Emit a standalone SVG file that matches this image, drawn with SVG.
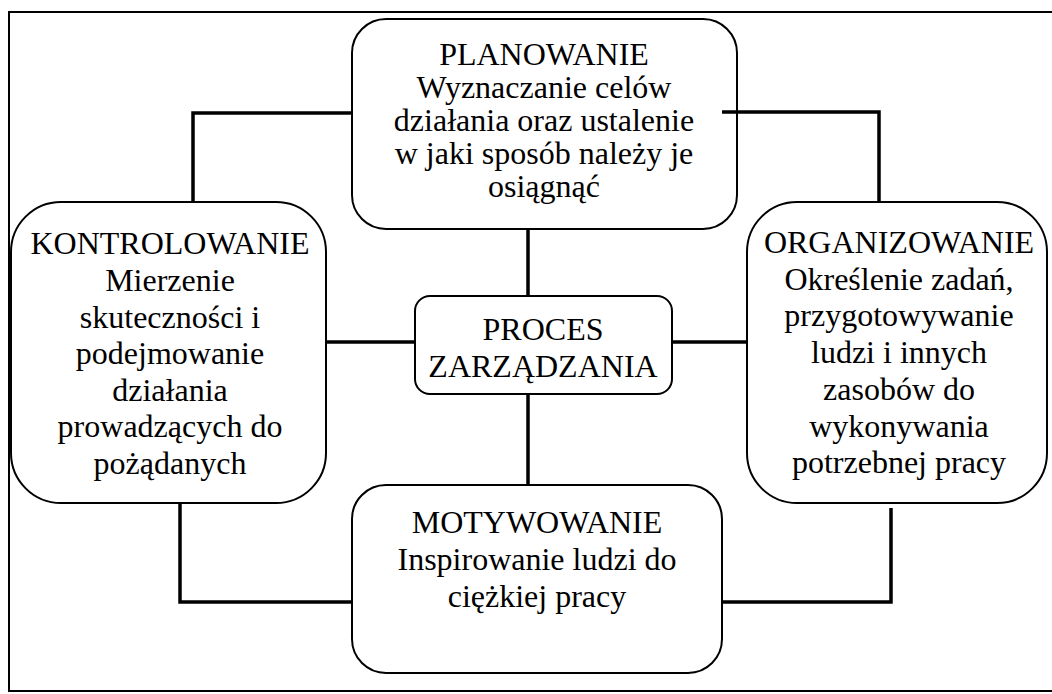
<svg xmlns="http://www.w3.org/2000/svg" width="1052" height="694" viewBox="0 0 1052 694">
  <style>
    .box { fill: #ffffff; stroke: #000000; stroke-width: 2; }
    .frame { fill: none; stroke: #000000; stroke-width: 2; }
    .link { fill: none; stroke: #000000; stroke-width: 3.5; stroke-linecap: butt; stroke-linejoin: miter; }
    .lbl { font-family: 'Liberation Serif', 'Times New Roman', 'DejaVu Serif', serif; font-size: 32px; fill: #000000; text-anchor: middle; }
  </style>
  <rect width="1052" height="694" fill="#ffffff"/>
  <!-- page frame, open on the right -->
  <path class="frame" d="M1053,12 H9 V691 H1053"/>

  <g id="planowanie" class="lbl">
    <rect class="box" x="352" y="19" width="385" height="210" rx="34" ry="34"/>
    <text x="544" y="65">PLANOWANIE</text>
    <text x="544" y="98">Wyznaczanie celów</text>
    <text x="544" y="131">działania oraz ustalenie</text>
    <text x="544" y="164">w jaki sposób należy je</text>
    <text x="544" y="197">osiągnąć</text>
  </g>

  <g id="kontrolowanie" class="lbl">
    <rect class="box" x="11" y="202" width="315" height="301" rx="50" ry="50"/>
    <text x="170" y="254">KONTROLOWANIE</text>
    <text x="170" y="291">Mierzenie</text>
    <text x="170" y="328">skuteczności i</text>
    <text x="170" y="364">podejmowanie</text>
    <text x="170" y="401">działania</text>
    <text x="170" y="437">prowadzących do</text>
    <text x="170" y="474">pożądanych</text>
  </g>

  <g id="organizowanie" class="lbl">
    <rect class="box" x="747" y="202" width="300" height="301" rx="50" ry="50"/>
    <text x="899" y="253">ORGANIZOWANIE</text>
    <text x="899" y="290">Określenie zadań,</text>
    <text x="899" y="326">przygotowywanie</text>
    <text x="899" y="363">ludzi i innych</text>
    <text x="899" y="400">zasobów do</text>
    <text x="899" y="437">wykonywania</text>
    <text x="899" y="473">potrzebnej pracy</text>
  </g>

  <g id="proces" class="lbl">
    <rect class="box" x="415" y="296" width="257" height="98" rx="15" ry="15"/>
    <text x="543" y="340">PROCES</text>
    <text x="543" y="377">ZARZĄDZANIA</text>
  </g>

  <g id="motywowanie" class="lbl">
    <rect class="box" x="352" y="485" width="370" height="188" rx="34" ry="34"/>
    <text x="537" y="533">MOTYWOWANIE</text>
    <text x="537" y="570">Inspirowanie ludzi do</text>
    <text x="537" y="607">ciężkiej pracy</text>
  </g>

  <g id="connectors">
    <!-- outer ring -->
    <path class="link" d="M352,113 H193 V202"/>
    <path class="link" d="M722,112 H879 V203"/>
    <path class="link" d="M180,503 V602 H352"/>
    <path class="link" d="M722,602 H891 V508"/>
    <!-- spokes to the centre -->
    <path class="link" d="M528,229 V296"/>
    <path class="link" d="M528,394 V485"/>
    <path class="link" d="M326,342 H415"/>
    <path class="link" d="M672,342 H747"/>
  </g>
</svg>
